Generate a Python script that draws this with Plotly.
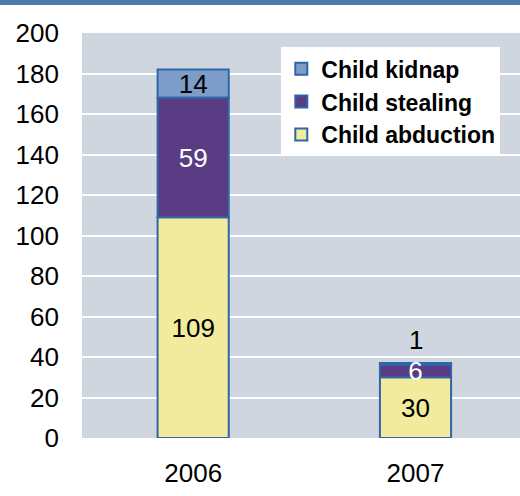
import plotly.graph_objects as go

years = ["2006", "2007"]
abduction = [109, 30]
stealing = [59, 6]
kidnap = [14, 1]

# stack bases, so the traces can be drawn in any order (keeps the "6" on top)
base_stealing = abduction
base_kidnap = [a + s for a, s in zip(abduction, stealing)]
totals = [b + k for b, k in zip(base_kidnap, kidnap)]

outline = dict(color="#2E66A8", width=2)
label_font = dict(family="Liberation Sans, Arial", size=26)
bar_width = 0.32

# thin kidnap slices get their label above the bar instead of inside
kidnap_inside = [str(v) if v >= 10 else "" for v in kidnap]

fig = go.Figure()
fig.add_trace(go.Bar(
    name="Child kidnap", x=years, y=kidnap, base=base_kidnap, width=bar_width,
    marker=dict(color="#7E9CC8", line=outline), legendrank=1,
    text=kidnap_inside, textposition="inside", insidetextanchor="middle",
    textfont=dict(label_font, color="black"), constraintext="none", textangle=0,
))
fig.add_trace(go.Bar(
    name="Child abduction", x=years, y=abduction, width=bar_width,
    marker=dict(color="#F2EA9C", line=outline), legendrank=3,
    text=abduction, textposition="inside", insidetextanchor="middle",
    textfont=dict(label_font, color="black"), constraintext="none", textangle=0,
))
fig.add_trace(go.Bar(
    name="Child stealing", x=years, y=stealing, base=base_stealing, width=bar_width,
    marker=dict(color="#5A3C85", line=outline), legendrank=2,
    text=stealing, textposition="inside", insidetextanchor="middle",
    textfont=dict(label_font, color="white"), constraintext="none", textangle=0,
    cliponaxis=False,
))

for i, (k, top) in enumerate(zip(kidnap, totals)):
    if k < 10:
        fig.add_annotation(x=i, y=top, text=str(k), showarrow=False,
                           yanchor="bottom", yshift=6, font=dict(label_font, color="black"))

fig.update_layout(
    width=520, height=496,
    barmode="overlay",
    margin=dict(l=82, r=0, t=33, b=58, autoexpand=False),
    paper_bgcolor="white", plot_bgcolor="#CFD6E0",
    font=dict(family="Liberation Sans, Arial", size=26, color="black"),
    showlegend=True,
    legend=dict(
        x=0.455, y=0.965, xanchor="left", yanchor="top",
        bgcolor="white", font=dict(size=23, family="Liberation Sans, Arial", weight="bold"),
        itemwidth=30, tracegroupgap=0, traceorder="normal",
    ),
    xaxis=dict(type="category", range=[-0.5, 1.47], showgrid=False, ticks="",
               automargin=False, ticklabelstandoff=17),
    yaxis=dict(range=[0, 200], dtick=20, gridcolor="white", gridwidth=2,
               zeroline=False, ticks="", automargin=False, ticklabelstandoff=22),
    shapes=[dict(type="rect", xref="paper", yref="paper", x0=-0.2, x1=1.0,
                 y0=1.0 + 28 / 405, y1=1.0 + 34 / 405, fillcolor="#4A7AB0",
                 line=dict(width=0), layer="above")],
)

# drop the browser's default page margin so the figure sits at the window's corner
fig.write_html("out.html", config={"displayModeBar": False},
               post_script="document.body.style.margin='0';")
